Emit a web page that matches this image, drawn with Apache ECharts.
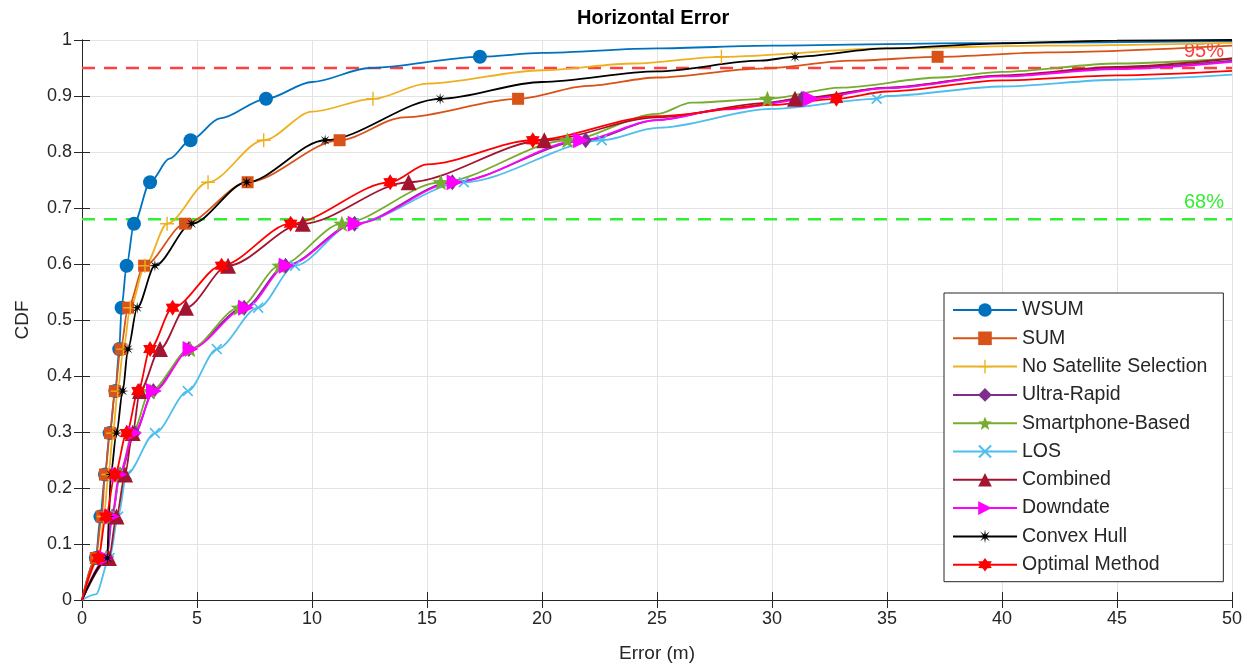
<!DOCTYPE html>
<html lang="en">
<head>
    <meta charset="UTF-8">
    <title>Horizontal Error</title>
    <script src="https://cdn.jsdelivr.net/npm/echarts@6/dist/echarts.min.js"></script>
    <style>
        body { margin: 0; padding: 0; background: #fff; }
        #chart { width: 1248px; height: 672px; }
    </style>
</head>
<body>
    <div id="chart"></div>
    <script>
        // CDF levels at which markers are drawn
        const levels = [0.075, 0.149, 0.224, 0.298, 0.373, 0.448, 0.522, 0.597, 0.672, 0.746, 0.821, 0.895, 0.97];

        // error (m) of each method at those levels (null = not reached on the plot)
        const wsumX   = [0.6, 0.8, 1.0, 1.2, 1.45, 1.62, 1.72, 1.94, 2.26, 2.96, 4.72, 8.0, 17.3];
        const sumX    = [0.6, 0.86, 1.0, 1.22, 1.43, 1.68, 2.0, 2.7, 4.48, 7.2, 11.2, 18.96, 37.2];
        const noSatX  = [0.75, 0.95, 1.15, 1.35, 1.55, 1.8, 2.1, 2.74, 3.7, 5.48, 7.9, 12.65, 27.8];
        const ultraX  = [1.08, 1.32, 1.65, 2.3, 3.1, 4.65, 7.05, 8.85, 11.85, 16.1, 21.9, 31.3, null];
        const smartX  = [1.05, 1.3, 1.65, 2.2, 2.96, 4.7, 6.83, 8.6, 11.3, 15.6, 21.1, 29.8, null];
        const losX    = [1.2, 1.57, 1.94, 3.17, 4.6, 5.86, 7.66, 9.26, 11.8, 16.6, 22.6, 34.55, null];
        const combX   = [1.17, 1.5, 1.87, 2.2, 2.52, 3.39, 4.52, 6.35, 9.6, 14.2, 20.1, 31.0, null];
        const downX   = [1.05, 1.3, 1.62, 2.26, 3.13, 4.72, 7.13, 8.9, 11.9, 16.2, 21.7, 31.7, null];
        const hullX   = [1.1, 1.17, 1.25, 1.5, 1.77, 2.0, 2.4, 3.17, 4.77, 7.16, 10.57, 15.57, 31.0];
        const optX    = [0.71, 1.04, 1.43, 1.94, 2.44, 2.96, 3.94, 6.07, 9.07, 13.4, 19.6, 32.8, null];

        // extra curve points without markers [error, cdf]
        const wsumExtra  = [[0, 0], [3.8, 0.788], [6, 0.86], [10, 0.925], [12.5, 0.95], [20, 0.977], [25, 0.985], [30, 0.99], [40, 0.995], [50, 0.998]];
        const sumExtra   = [[0, 0], [14, 0.862], [22, 0.918], [25, 0.933], [29.5, 0.949], [33.5, 0.963], [42, 0.978], [50, 0.99]];
        const noSatExtra = [[0, 0], [10, 0.872], [15, 0.922], [20, 0.946], [24, 0.958], [35, 0.985], [42, 0.99], [50, 0.995]];
        const ultraExtra = [[0, 0], [25, 0.857], [28, 0.877], [35, 0.915], [40, 0.936], [45, 0.95], [50, 0.963]];
        const smartExtra = [[0, 0], [25, 0.868], [26.5, 0.888], [33, 0.915], [37.3, 0.933], [40, 0.943], [45, 0.958], [50, 0.967]];
        const losExtra   = [[0, 0], [0.6, 0.01], [25, 0.843], [30, 0.877], [35, 0.9], [40, 0.917], [45, 0.929], [50, 0.938]];
        const combExtra  = [[0, 0], [25, 0.862], [30, 0.888], [35, 0.914], [40, 0.937], [45, 0.952], [50, 0.967]];
        const downExtra  = [[0, 0], [25, 0.857], [28, 0.876], [35, 0.914], [40, 0.935], [45, 0.948], [50, 0.961]];
        const hullExtra  = [[0, 0], [20, 0.925], [25, 0.944], [29.5, 0.963], [35, 0.985], [40, 0.994], [45, 0.999], [50, 1.0]];
        const optExtra   = [[0, 0], [15, 0.778], [25, 0.864], [30, 0.884], [35, 0.908], [40, 0.928], [45, 0.937], [50, 0.945]];

        const thresholds = [0.95, 0.68];
        const thresholdLabels = ['95%', '68%'];

        // marker shapes
        function starPath(n, rOut, rIn) {
            let d = '';
            for (let i = 0; i < 2 * n; i++) {
                const r = i % 2 ? rIn : rOut;
                const a = Math.PI * i / n - Math.PI / 2;
                d += (i ? 'L' : 'M') + (r * Math.cos(a)).toFixed(3) + ',' + (r * Math.sin(a)).toFixed(3) + ' ';
            }
            return 'path://' + d + 'Z';
        }
        function crossPath(angle, w) {
            const pts = [[-w, -1], [w, -1], [w, -w], [1, -w], [1, w], [w, w], [w, 1], [-w, 1], [-w, w], [-1, w], [-1, -w], [-w, -w]];
            const c = Math.cos(angle), s = Math.sin(angle);
            return 'path://' + pts.map((p, i) => (i ? 'L' : 'M') + (p[0] * c - p[1] * s).toFixed(3) + ',' + (p[0] * s + p[1] * c).toFixed(3)).join(' ') + ' Z';
        }
        const plusSym = crossPath(0, 0.1);
        const xSym = crossPath(Math.PI / 4, 0.12);
        const pentSym = starPath(5, 1, 0.42);
        const hexSym = starPath(6, 1, 0.6);
        const astSym = starPath(8, 1, 0.3);
        const rightTri = 'path://M0,0 L10,5 L0,10 Z';

        function build(markX, extra) {
            const pts = [];
            markX.forEach((x, i) => { if (x != null) pts.push({ value: [x, levels[i]], mark: true }); });
            extra.forEach(p => pts.push({ value: p, mark: false }));
            pts.sort((a, b) => a.value[0] - b.value[0]);
            return pts.map(p => p.mark ? { value: p.value } : { value: p.value, symbol: 'none' });
        }

        const defs = [
            ['WSUM', '#0072BD', 'circle', 14, wsumX, wsumExtra],
            ['SUM', '#D95319', 'rect', 12, sumX, sumExtra],
            ['No Satellite Selection', '#EDB120', plusSym, 14, noSatX, noSatExtra],
            ['Ultra-Rapid', '#7E2F8E', 'diamond', [12, 16], ultraX, ultraExtra],
            ['Smartphone-Based', '#77AC30', pentSym, 17, smartX, smartExtra],
            ['LOS', '#4DBEEE', xSym, 11, losX, losExtra],
            ['Combined', '#A2142F', 'triangle', 16, combX, combExtra],
            ['Downdate', '#FF00FF', rightTri, 16, downX, downExtra],
            ['Convex Hull', '#000000', astSym, 12, hullX, hullExtra],
            ['Optimal Method', '#FF0000', hexSym, 16, optX, optExtra]
        ];

        const chart = echarts.init(document.getElementById('chart'));
        const font = 'Liberation Sans, Arial, Helvetica, sans-serif';

        const series = defs.map(d => ({
            name: d[0],
            type: 'line',
            data: build(d[4], d[5]),
            symbol: d[2],
            symbolSize: d[3],
            symbolKeepAspect: true,
            showSymbol: true,
            showAllSymbol: true,
            smooth: 0.3,
            smoothMonotone: 'x',
            lineStyle: { color: d[1], width: 1.8 },
            itemStyle: { color: d[1] },
            emphasis: { disabled: true },
            animation: false
        }));

        // reference lines
        const refColors = ['#FF4040', '#33EE33'];
        thresholds.forEach((t, i) => {
            series.push({
                name: 'ref' + i,
                type: 'line',
                data: [[0, t], [50, t]],
                symbol: 'none',
                lineStyle: { color: refColors[i], width: 2.5, type: [13, 9] },
                endLabel: {
                    show: true,
                    formatter: thresholdLabels[i],
                    color: refColors[i],
                    fontSize: 20,
                    fontFamily: font,
                    offset: [-56, -17]
                },
                z: 1,
                silent: true,
                animation: false
            });
        });

        const axisText = { color: '#262626', fontSize: 18, fontFamily: font };

        chart.setOption({
            backgroundColor: '#fff',
            animation: false,
            graphic: [{
                type: 'text',
                left: 657 - 80,
                top: 8,
                style: { text: 'Horizontal Error', fontSize: 20, fontWeight: 'bold', fontFamily: font, fill: '#000', width: 160, align: 'center' }
            }],
            grid: { left: 82, right: 16, top: 40, bottom: 72, show: false },
            legend: {
                data: defs.map(d => d[0]),
                orient: 'vertical',
                left: 944,
                top: 293,
                itemWidth: 64,
                itemHeight: 17,
                itemGap: 8.3,
                padding: [7, 16, 7, 8],
                borderColor: '#262626',
                borderWidth: 1,
                backgroundColor: '#fff',
                textStyle: { color: '#262626', fontSize: 19.5, fontFamily: font, lineHeight: 20 },
                z: 10
            },
            xAxis: [{
                type: 'value',
                min: 0, max: 50, interval: 5,
                name: 'Error (m)',
                nameLocation: 'middle',
                nameGap: 44,
                nameTextStyle: { color: '#262626', fontSize: 19, fontFamily: font },
                axisLine: { show: true, lineStyle: { color: '#262626', width: 1 } },
                axisTick: { show: true, inside: true, length: 8, lineStyle: { color: '#262626' } },
                axisLabel: Object.assign({ margin: 10 }, axisText),
                splitLine: { show: true, lineStyle: { color: '#e3e3e3', width: 1 } }
            }, {
                type: 'value', position: 'top',
                min: 0, max: 50, interval: 5,
                axisLine: { show: true, lineStyle: { color: '#262626', width: 1 } },
                axisTick: { show: true, inside: true, length: 8, lineStyle: { color: '#262626' } },
                axisLabel: { show: false },
                splitLine: { show: false }
            }],
            yAxis: [{
                type: 'value',
                min: 0, max: 1, interval: 0.1,
                name: 'CDF',
                nameLocation: 'middle',
                nameGap: 50,
                nameRotate: 90,
                nameTextStyle: { color: '#262626', fontSize: 19, fontFamily: font },
                axisLine: { show: true, lineStyle: { color: '#262626', width: 1 } },
                axisTick: { show: true, inside: true, length: 8, lineStyle: { color: '#262626' } },
                axisLabel: Object.assign({ margin: 10, formatter: v => String(Math.round(v * 10) / 10) }, axisText),
                splitLine: { show: true, lineStyle: { color: '#e3e3e3', width: 1 } }
            }, {
                type: 'value', position: 'right',
                min: 0, max: 1, interval: 0.1,
                axisLine: { show: true, lineStyle: { color: '#262626', width: 1 } },
                axisTick: { show: true, inside: true, length: 8, lineStyle: { color: '#262626' } },
                axisLabel: { show: false },
                splitLine: { show: false }
            }],
            series: series
        });

        window.addEventListener('resize', function () {
            chart.resize();
        });
    </script>
</body>
</html>
